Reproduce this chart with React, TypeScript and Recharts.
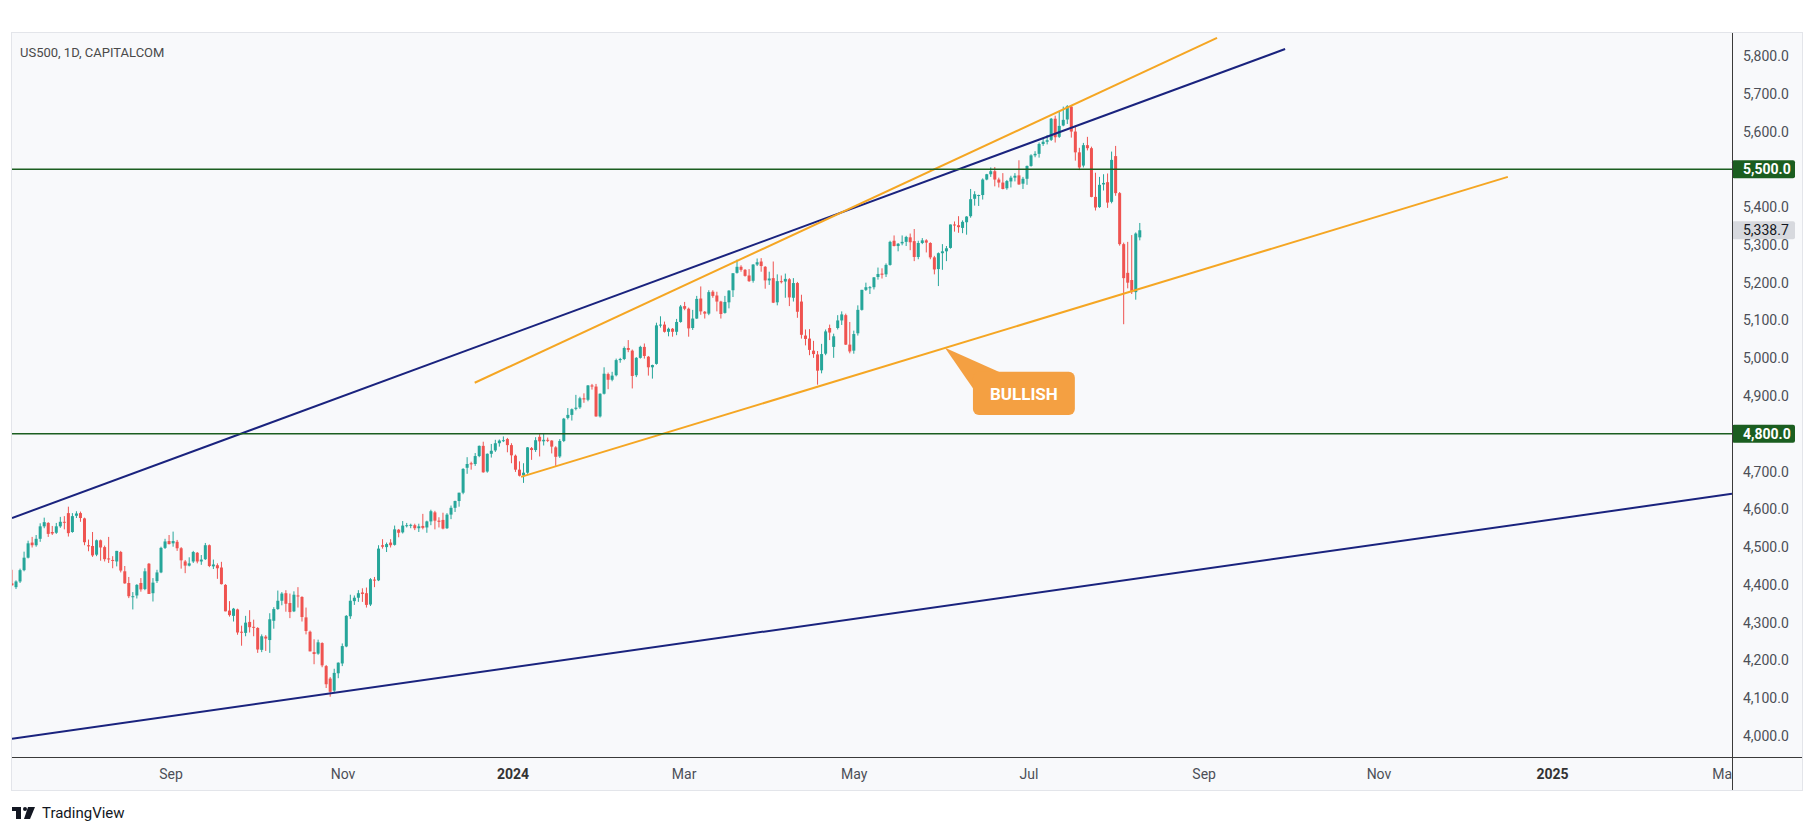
import React from 'react';
import { ComposedChart, Bar, XAxis, YAxis, ReferenceLine, ReferenceArea } from 'recharts';

// US500 daily candles, 7 Jul 2023 .. 9 Aug 2024 (bar index = position in arrays)
const opens = [
  // Jul 2023
  4404, 4394, 4409, 4439, 4472, 4512, 4505, 4522, 4555, 4564, 4540, 4538, 4555, 4567, 4590, 4540, 4583,
  // Aug
  4590, 4576, 4505, 4503, 4480, 4518, 4500, 4470, 4466, 4462, 4487, 4436, 4405, 4368, 4372, 4405, 4389, 4456, 4378, 4410, 4433, 4498, 4516,
  // Sep
  4510, 4514, 4497, 4462, 4451, 4462, 4485, 4462, 4468, 4505, 4449, 4452, 4446, 4400, 4332, 4318, 4335, 4276, 4273, 4302,
  // Oct
  4289, 4286, 4228, 4263, 4254, 4305, 4336, 4358, 4378, 4352, 4330, 4372, 4368, 4314, 4276, 4222, 4218, 4246, 4185, 4152, 4120, 4166,
  // Nov
  4192, 4237, 4317, 4357, 4366, 4380, 4378, 4348, 4414, 4412, 4505, 4500, 4512, 4506, 4546, 4539, 4557, 4558, 4558, 4550, 4556, 4552,
  // Dec
  4568, 4592, 4570, 4572, 4550, 4586, 4604, 4622, 4644, 4710, 4722, 4720, 4741, 4768, 4700, 4747, 4756, 4775, 4782, 4786,
  // Jan 2024
  4770, 4742, 4705, 4690, 4697, 4762, 4757, 4792, 4780, 4784, 4782, 4764, 4740, 4781, 4842, 4850, 4866, 4870, 4894, 4890, 4928, 4925,
  // Feb
  4846, 4906, 4958, 4943, 4955, 4995, 4998, 5027, 5020, 4955, 5001, 5030, 5004, 4976, 4985, 5088, 5089, 5070, 5078, 5070,
  // Mar
  5096, 5138, 5131, 5080, 5105, 5158, 5123, 5118, 5176, 5166, 5150, 5120, 5148, 5180, 5226, 5242, 5234, 5219, 5205, 5248,
  // Apr
  5256, 5242, 5206, 5212, 5148, 5204, 5203, 5209, 5160, 5199, 5150, 5060, 5052, 5020, 5010, 4968, 5012, 5080, 5030, 5080, 5100, 5114,
  // May
  5036, 5020, 5066, 5128, 5181, 5186, 5188, 5215, 5224, 5222, 5247, 5311, 5297, 5304, 5308, 5320, 5310, 5268, 5305, 5312, 5305, 5267, 5236,
  // Jun
  5278, 5283, 5292, 5354, 5352, 5345, 5360, 5376, 5422, 5432, 5432, 5473, 5487, 5495, 5473, 5465, 5450, 5468, 5478, 5484,
  // Jul
  5462, 5475, 5509, 5537, 5541, 5567, 5573, 5578, 5634, 5586, 5616, 5632, 5666, 5600, 5545, 5510, 5564, 5556, 5427, 5400, 5460, 5466, 5414,
  // Aug
  5535, 5437, 5302, 5226, 5207, 5175, 5320,
];

const highs = [
  4440, 4412, 4443, 4488, 4517, 4527, 4532, 4563, 4578, 4566, 4556, 4564, 4580, 4582, 4607, 4590, 4595,
  4594, 4578, 4520, 4540, 4520, 4520, 4504, 4527, 4476, 4490, 4490, 4450, 4421, 4381, 4402, 4418, 4444, 4458, 4418, 4440, 4501, 4522, 4532,
  4541, 4519, 4500, 4466, 4473, 4490, 4487, 4479, 4511, 4507, 4467, 4457, 4461, 4402, 4357, 4339, 4337, 4292, 4318, 4333,
  4308, 4288, 4269, 4267, 4325, 4341, 4385, 4381, 4386, 4377, 4383, 4394, 4370, 4340, 4279, 4256, 4255, 4248, 4188, 4156, 4178, 4195,
  4245, 4320, 4374, 4372, 4386, 4391, 4393, 4418, 4421, 4505, 4521, 4512, 4521, 4557, 4548, 4569, 4564, 4562, 4562, 4562, 4588, 4570,
  4599, 4596, 4579, 4591, 4590, 4610, 4623, 4644, 4709, 4738, 4726, 4749, 4769, 4779, 4748, 4773, 4784, 4785, 4793, 4789,
  4775, 4745, 4727, 4722, 4765, 4765, 4791, 4799, 4802, 4790, 4783, 4767, 4786, 4842, 4868, 4867, 4903, 4898, 4907, 4929, 4932, 4932,
  4907, 4976, 4962, 4964, 4999, 5001, 5031, 5048, 5023, 5003, 5033, 5039, 5006, 4983, 5094, 5111, 5097, 5081, 5080, 5104,
  5141, 5149, 5134, 5128, 5165, 5190, 5125, 5180, 5180, 5176, 5152, 5165, 5180, 5225, 5261, 5246, 5236, 5236, 5249, 5264,
  5265, 5244, 5229, 5256, 5222, 5219, 5224, 5212, 5212, 5202, 5168, 5076, 5077, 5046, 5019, 5038, 5076, 5089, 5065, 5114, 5124, 5118,
  5096, 5073, 5140, 5181, 5200, 5191, 5215, 5240, 5238, 5251, 5311, 5325, 5305, 5325, 5324, 5330, 5342, 5311, 5318, 5315, 5307, 5271, 5280,
  5302, 5297, 5354, 5362, 5376, 5365, 5376, 5448, 5442, 5433, 5476, 5488, 5505, 5506, 5478, 5490, 5472, 5483, 5490, 5524,
  5480, 5510, 5540, 5548, 5571, 5584, 5591, 5636, 5642, 5655, 5666, 5670, 5668, 5615, 5557, 5570, 5586, 5560, 5491, 5480, 5487, 5489, 5547,
  5562, 5440, 5306, 5308, 5326, 5333, 5358,
];

const lows = [
  4398, 4389, 4405, 4436, 4470, 4499, 4501, 4514, 4550, 4527, 4532, 4535, 4551, 4547, 4528, 4538, 4577,
  4567, 4505, 4489, 4474, 4476, 4464, 4462, 4458, 4444, 4449, 4433, 4403, 4365, 4335, 4364, 4382, 4386, 4376, 4356, 4405, 4431, 4495, 4507,
  4501, 4490, 4443, 4431, 4449, 4458, 4457, 4453, 4466, 4447, 4442, 4416, 4401, 4330, 4316, 4303, 4268, 4239, 4264, 4274,
  4264, 4220, 4222, 4225, 4220, 4284, 4334, 4346, 4329, 4312, 4328, 4340, 4303, 4269, 4224, 4190, 4215, 4182, 4127, 4104, 4115, 4153,
  4185, 4235, 4310, 4347, 4355, 4355, 4340, 4344, 4394, 4410, 4496, 4487, 4499, 4504, 4526, 4536, 4552, 4550, 4545, 4540, 4547, 4538,
  4558, 4547, 4552, 4547, 4548, 4574, 4593, 4607, 4640, 4694, 4705, 4715, 4738, 4697, 4697, 4737, 4752, 4766, 4778, 4751,
  4722, 4699, 4687, 4670, 4694, 4731, 4752, 4740, 4769, 4778, 4748, 4715, 4736, 4778, 4838, 4835, 4862, 4866, 4882, 4886, 4917, 4845,
  4843, 4904, 4918, 4939, 4952, 4988, 4995, 5016, 4920, 4950, 4999, 4999, 4954, 4946, 4983, 5081, 5068, 5058, 5057, 5061,
  5094, 5127, 5057, 5075, 5104, 5115, 5105, 5114, 5160, 5124, 5105, 5118, 5132, 5162, 5224, 5229, 5216, 5202, 5200, 5244,
  5229, 5184, 5194, 5146, 5140, 5198, 5160, 5138, 5150, 5107, 5052, 5034, 5008, 5001, 4930, 4960, 5008, 5048, 5001, 5076, 5088, 5035,
  5013, 5012, 5060, 5126, 5178, 5170, 5182, 5208, 5211, 5215, 5245, 5296, 5283, 5299, 5297, 5286, 5257, 5262, 5302, 5280, 5262, 5222, 5191,
  5234, 5257, 5290, 5335, 5332, 5331, 5327, 5372, 5404, 5403, 5420, 5471, 5480, 5455, 5452, 5447, 5446, 5452, 5468, 5459,
  5448, 5459, 5507, 5532, 5531, 5562, 5566, 5575, 5571, 5583, 5614, 5620, 5584, 5523, 5498, 5505, 5550, 5426, 5391, 5398, 5444, 5398, 5410,
  5430, 5298, 5090, 5185, 5170, 5155, 5312,
];

const closes = [
  4399, 4409, 4439, 4472, 4510, 4505, 4522, 4555, 4566, 4535, 4536, 4555, 4567, 4566, 4537, 4582, 4589,
  4577, 4513, 4502, 4478, 4518, 4499, 4468, 4469, 4464, 4490, 4438, 4404, 4370, 4370, 4400, 4388, 4436, 4376, 4406, 4433, 4498, 4515, 4508,
  4516, 4497, 4465, 4451, 4457, 4487, 4462, 4467, 4505, 4450, 4454, 4444, 4402, 4330, 4320, 4337, 4274, 4275, 4300, 4288,
  4288, 4229, 4264, 4258, 4309, 4336, 4358, 4377, 4350, 4328, 4374, 4370, 4315, 4278, 4224, 4217, 4248, 4187, 4137, 4117, 4167, 4194,
  4238, 4318, 4358, 4366, 4378, 4376, 4347, 4415, 4412, 4496, 4501, 4508, 4505, 4547, 4538, 4557, 4558, 4559, 4550, 4555, 4551, 4568,
  4595, 4570, 4567, 4549, 4586, 4604, 4622, 4644, 4707, 4720, 4719, 4741, 4768, 4698, 4747, 4755, 4775, 4782, 4783, 4770,
  4743, 4705, 4689, 4697, 4764, 4757, 4783, 4780, 4784, 4782, 4766, 4739, 4781, 4840, 4850, 4865, 4869, 4894, 4891, 4928, 4925, 4846,
  4906, 4959, 4943, 4954, 4995, 4998, 5027, 5022, 4953, 5001, 5030, 5006, 4976, 4982, 5087, 5089, 5070, 5078, 5070, 5096,
  5137, 5131, 5079, 5105, 5157, 5124, 5118, 5175, 5165, 5150, 5117, 5149, 5179, 5225, 5242, 5234, 5218, 5204, 5248, 5254,
  5244, 5206, 5211, 5147, 5204, 5202, 5210, 5161, 5199, 5123, 5062, 5051, 5022, 5011, 4967, 5011, 5071, 5068, 5058, 5100, 5116, 5036,
  5018, 5064, 5128, 5181, 5188, 5188, 5214, 5223, 5221, 5247, 5308, 5297, 5303, 5308, 5321, 5307, 5268, 5305, 5312, 5306, 5267, 5235, 5278,
  5283, 5291, 5354, 5353, 5347, 5361, 5375, 5421, 5434, 5432, 5473, 5487, 5495, 5473, 5465, 5448, 5469, 5478, 5483, 5460,
  5475, 5509, 5537, 5541, 5567, 5573, 5577, 5634, 5585, 5615, 5631, 5667, 5600, 5545, 5505, 5564, 5556, 5427, 5399, 5459, 5464, 5412, 5525,
  5437, 5302, 5212, 5200, 5175, 5330, 5338.7,
];

// time scale labels, placed at bar index
const timeTicks = [39.6, 82.3, 124.5, 167, 209.2, 252.6, 296.1, 339.5, 382.6, 425.3];
const timeLabels = ['Sep', 'Nov', '2024', 'Mar', 'May', 'Jul', 'Sep', 'Nov', '2025', 'Mar'];
const priceTicks = [4000, 4100, 4200, 4300, 4400, 4500, 4600, 4700, 4800, 4900, 5000, 5100, 5200, 5300, 5400, 5500, 5600, 5700, 5800];

const levels = [5500, 4800];
const lastPrice = 5338.7;

// drawings: [barIndex1, price1, barIndex2, price2]
const navyLines = [
  [0.12, 4577, 316.2, 5818.5],
  [0.12, 3993, 427.15, 4641],
];
const orangeLines = [
  [115, 4935, 299.3, 5848],
  [126.5, 4686, 371.5, 5480],
];
const bullishBox = [238.7, 4964, 264, 4850];

const UP = '#26a69a';
const DOWN = '#ef5350';
const NAVY = '#1a237e';
const ORANGE = '#f5a623';
const LEVEL = '#1b5e20';
const CALLOUT = '#f4a042';
const FONT = 'Roboto, "Noto Sans", sans-serif';
const PLOT_RIGHT = 1732;

const data = closes.map((c, i) => ({
  i,
  open: opens[i],
  high: highs[i],
  low: lows[i],
  close: c,
  range: [lows[i], highs[i]],
}));

// the level tags sit on top of these scale labels, so they are not drawn twice
const axisTicks = priceTicks.filter((t) => !levels.includes(t));

const fmt = (v: number) =>
  v.toLocaleString('en-US', { minimumFractionDigits: 1, maximumFractionDigits: 1 });

function Candle(props: any) {
  const { x, y, width, height, payload } = props;
  if (x == null || y == null) return null;
  const { open, close, high, low } = payload;
  const color = close >= open ? UP : DOWN;
  const span = high - low || 1;
  const py = (v: number) => y + ((high - v) / span) * height;
  const top = py(Math.max(open, close));
  const bot = py(Math.min(open, close));
  const cx = x + width / 2;
  return (
    <g>
      <line x1={cx} x2={cx} y1={y} y2={y + height} stroke={color} strokeWidth={1} />
      <rect x={x} y={top} width={width} height={Math.max(1, bot - top)} fill={color} />
    </g>
  );
}

function TimeTick(props: any) {
  const { x, y, payload } = props;
  const k = timeTicks.indexOf(payload.value);
  const label = timeLabels[k] ?? '';
  const bold = /^\d{4}$/.test(label);
  return (
    <g>
      <defs>
        <clipPath id={`tclip${k}`}>
          <rect x={0} y={0} width={PLOT_RIGHT} height={836} />
        </clipPath>
      </defs>
      <text
        x={x}
        y={y + 17}
        textAnchor="middle"
        dominantBaseline="central"
        fontSize={14}
        fontFamily={FONT}
        fontWeight={bold ? 700 : 400}
        fill={bold ? '#333' : '#4c4f57'}
        clipPath={`url(#tclip${k})`}
      >
        {label}
      </text>
    </g>
  );
}

function priceTag(viewBox: any, text: string, bg: string, fg: string, bold: boolean) {
  if (!viewBox) return null;
  const x = viewBox.x + viewBox.width;
  const y = viewBox.y;
  return (
    <g>
      <rect x={x} y={y - 9} width={63} height={18} rx={2} fill={bg} />
      <text
        x={x + 11}
        y={y}
        dominantBaseline="central"
        fontSize={14}
        fontFamily={FONT}
        fontWeight={bold ? 700 : 400}
        fill={fg}
      >
        {text}
      </text>
    </g>
  );
}

function Callout(props: any) {
  const { x, y, width, height } = props;
  if (x == null) return null;
  return (
    <g>
      <polygon points={`${x - 28},${y - 24} ${x + 28},${y + 1} ${x + 1},${y + 18}`} fill={CALLOUT} />
      <rect x={x} y={y} width={width} height={height} rx={6} fill={CALLOUT} />
      <text
        x={x + width / 2}
        y={y + height / 2 + 1}
        textAnchor="middle"
        dominantBaseline="central"
        fill="#fff"
        fontSize={17}
        fontWeight={700}
        fontFamily={FONT}
      >
        BULLISH
      </text>
    </g>
  );
}

export default function App() {
  return (
    <div style={{ position: 'absolute', left: 0, top: 0, width: 1815, height: 836, background: '#fff', overflow: 'hidden' }}>
      <div
        style={{
          position: 'absolute',
          left: 11,
          top: 32,
          width: 1790,
          height: 757,
          background: '#f8f9fb',
          border: '1px solid #e3e5ea',
        }}
      />
      <div style={{ position: 'absolute', left: 0, top: 0 }}>
        <ComposedChart width={1815} height={836} data={data} margin={{ top: 33, right: 13, bottom: 46, left: 12 }}>
          <XAxis
            dataKey="i"
            type="number"
            domain={[0.124, 427.15]}
            allowDataOverflow
            ticks={timeTicks}
            interval={0}
            tick={<TimeTick />}
            tickLine={false}
            axisLine={false}
            tickSize={0}
            tickMargin={0}
            height={33}
          />
          <YAxis
            orientation="right"
            type="number"
            domain={[3944.4, 5860.9]}
            allowDataOverflow
            ticks={axisTicks}
            interval={0}
            width={70}
            tickLine={false}
            axisLine={false}
            tickSize={0}
            tickMargin={11}
            tick={{ fill: '#4c4f57', fontSize: 14, fontFamily: FONT }}
            tickFormatter={fmt}
          />
          <Bar dataKey="range" barSize={3} shape={(p: any) => <Candle {...p} />} isAnimationActive={false} />
          {navyLines.map((l, k) => (
            <ReferenceLine
              key={`n${k}`}
              segment={[{ x: l[0], y: l[1] }, { x: l[2], y: l[3] }]}
              stroke={NAVY}
              strokeWidth={2}
              ifOverflow="hidden"
            />
          ))}
          {orangeLines.map((l, k) => (
            <ReferenceLine
              key={`o${k}`}
              segment={[{ x: l[0], y: l[1] }, { x: l[2], y: l[3] }]}
              stroke={ORANGE}
              strokeWidth={2}
              ifOverflow="hidden"
            />
          ))}
          {levels.map((v) => (
            <ReferenceLine
              key={`lv${v}`}
              y={v}
              stroke={LEVEL}
              strokeWidth={1.5}
              label={(p: any) => priceTag(p.viewBox, fmt(v), LEVEL, '#fff', true)}
            />
          ))}
          <ReferenceLine
            y={lastPrice}
            stroke="none"
            label={(p: any) => priceTag(p.viewBox, fmt(lastPrice), '#d7d9de', '#131722', false)}
          />
          <ReferenceArea
            x1={bullishBox[0]}
            y1={bullishBox[1]}
            x2={bullishBox[2]}
            y2={bullishBox[3]}
            ifOverflow="visible"
            shape={(p: any) => <Callout {...p} />}
          />
        </ComposedChart>
      </div>
      {/* scale borders */}
      <div style={{ position: 'absolute', left: 12, top: 757, width: 1790, height: 1, background: '#3a3a3a' }} />
      <div style={{ position: 'absolute', left: 1732, top: 33, width: 1, height: 757, background: '#3a3a3a' }} />
      <div
        style={{
          position: 'absolute',
          left: 20,
          top: 45,
          fontFamily: FONT,
          fontSize: 13,
          color: '#4a4a4a',
          whiteSpace: 'nowrap',
        }}
      >
        US500, 1D, CAPITALCOM
      </div>
      <div style={{ position: 'absolute', left: 12, top: 804, display: 'flex', alignItems: 'center', gap: 6 }}>
        <svg width={24} height={16} viewBox="0 0 24 16">
          <rect x={0} y={2} width={9} height={4} fill="#131722" />
          <rect x={4} y={2} width={5} height={12} fill="#131722" />
          <circle cx={13} cy={4} r={2} fill="#131722" />
          <polygon points="16,2 23,2 18,14 12,14" fill="#131722" />
        </svg>
        <span style={{ fontFamily: FONT, fontSize: 15, color: '#131722' }}>TradingView</span>
      </div>
    </div>
  );
}
